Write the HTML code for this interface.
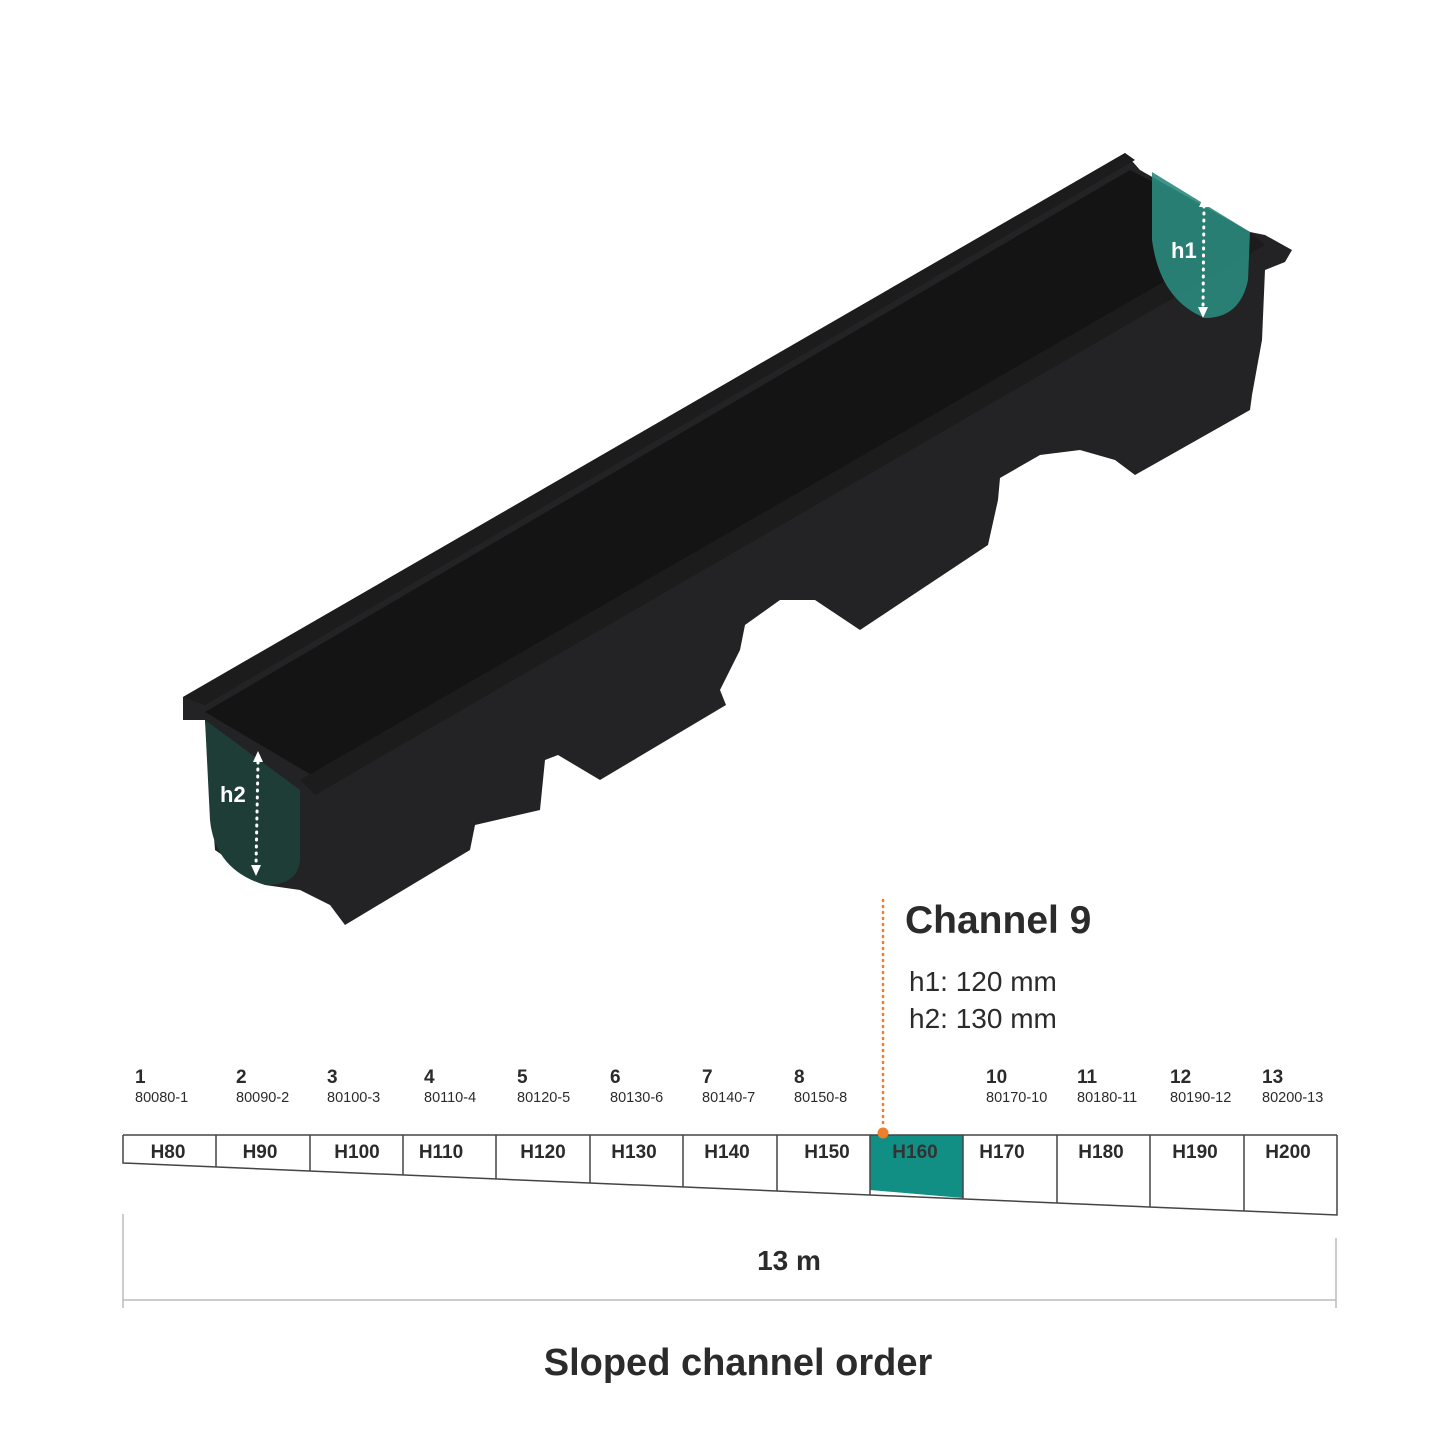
<!DOCTYPE html>
<html><head><meta charset="utf-8"><style>
html,body{margin:0;padding:0;background:#fff}
svg{display:block}
text{font-family:"Liberation Sans",sans-serif;fill:#2b2b2b}
</style></head><body>
<svg width="1445" height="1445" viewBox="0 0 1445 1445" xmlns="http://www.w3.org/2000/svg">
<polygon fill="#232325" points="183,697 1125,153 1140,170 1250,232 1265,235 1292,250 1285,262 1265,270 1262,340 1252,395 1250,410 1135,475 1115,460 1080,450 1040,455 1000,478 998,500 988,545 860,630 815,600 780,600 745,625 740,650 720,690 726,705 600,780 558,755 545,760 540,810 475,825 470,850 345,925 330,905 300,890 265,885 215,850 205,720 183,720"/>
<polygon fill="#141414" points="205,712 1130,170 1250,232 320,780"/>
<polygon fill="#1c1c1c" points="183,697 1125,153 1135,160 205,705"/>
<polygon fill="#1c1c1c" points="300,780 1250,232 1265,245 315,795"/>
<path d="M205,720 L300,790 L300,860 Q298,885 265,885 Q215,870 210,820 Z" fill="#1f3d37"/>
<path d="M1152,172 L1250,232 L1248,280 Q1240,318 1205,318 Q1160,300 1152,240 Z" fill="#2a8a7c" opacity="0.9"/>
<g stroke="#fff" stroke-width="3" stroke-dasharray="1 6" stroke-linecap="round">
<line x1="258" y1="762" x2="256" y2="866"/>
<line x1="1204" y1="206" x2="1203" y2="308"/>
</g>
<g fill="#fff">
<polygon points="258,751 253,762 263,762"/><polygon points="256,876 251,865 261,865"/>
<polygon points="1204,196 1199,207 1209,207"/><polygon points="1203,318 1198,307 1208,307"/>
</g>
<text x="220" y="802" font-size="22" font-weight="bold" style="fill:#fff">h2</text>
<text x="1171" y="258" font-size="22" font-weight="bold" style="fill:#fff">h1</text>

<line x1="883" y1="900" x2="883" y2="1128" stroke="#f07d2a" stroke-width="2.5" stroke-dasharray="1 5" stroke-linecap="round"/>
<text x="905" y="933" font-size="39" font-weight="bold">Channel 9</text>
<text x="909" y="991" font-size="28">h1: 120 mm</text>
<text x="909" y="1028" font-size="28">h2: 130 mm</text>

<polygon points="870,1135 963,1135 963,1198 870,1190" fill="#118f85"/>
<polyline points="123,1135 1337,1135" fill="none" stroke="#444" stroke-width="1.5"/>
<polyline points="123,1135 123,1163 1337,1215 1337,1135" fill="none" stroke="#444" stroke-width="1.5"/>
<g stroke="#444" stroke-width="1.5">
<line x1="216" y1="1135" x2="216" y2="1167"/>
<line x1="310" y1="1135" x2="310" y2="1171"/>
<line x1="403" y1="1135" x2="403" y2="1175"/>
<line x1="496" y1="1135" x2="496" y2="1179"/>
<line x1="590" y1="1135" x2="590" y2="1183"/>
<line x1="683" y1="1135" x2="683" y2="1187"/>
<line x1="777" y1="1135" x2="777" y2="1191"/>
<line x1="870" y1="1135" x2="870" y2="1195"/>
<line x1="963" y1="1135" x2="963" y2="1199"/>
<line x1="1057" y1="1135" x2="1057" y2="1203"/>
<line x1="1150" y1="1135" x2="1150" y2="1207"/>
<line x1="1244" y1="1135" x2="1244" y2="1211"/>
</g>
<circle cx="883" cy="1133" r="5.5" fill="#f07d2a"/>
<g font-size="19" font-weight="bold" text-anchor="middle">
<text x="168" y="1158">H80</text><text x="260" y="1158">H90</text><text x="357" y="1158">H100</text>
<text x="441" y="1158">H110</text><text x="543" y="1158">H120</text><text x="634" y="1158">H130</text>
<text x="727" y="1158">H140</text><text x="827" y="1158">H150</text><text x="915" y="1158" style="fill:#333">H160</text>
<text x="1002" y="1158">H170</text><text x="1101" y="1158">H180</text><text x="1195" y="1158">H190</text>
<text x="1288" y="1158">H200</text>
</g>
<g font-size="19" font-weight="bold">
<text x="135" y="1083">1</text><text x="236" y="1083">2</text><text x="327" y="1083">3</text>
<text x="424" y="1083">4</text><text x="517" y="1083">5</text><text x="610" y="1083">6</text>
<text x="702" y="1083">7</text><text x="794" y="1083">8</text><text x="986" y="1083">10</text>
<text x="1077" y="1083">11</text><text x="1170" y="1083">12</text><text x="1262" y="1083">13</text>
</g>
<g font-size="14.5" style="fill:#3a3a3a">
<text x="135" y="1102">80080-1</text><text x="236" y="1102">80090-2</text><text x="327" y="1102">80100-3</text>
<text x="424" y="1102">80110-4</text><text x="517" y="1102">80120-5</text><text x="610" y="1102">80130-6</text>
<text x="702" y="1102">80140-7</text><text x="794" y="1102">80150-8</text><text x="986" y="1102">80170-10</text>
<text x="1077" y="1102">80180-11</text><text x="1170" y="1102">80190-12</text><text x="1262" y="1102">80200-13</text>
</g>

<g stroke="#bbb" stroke-width="1.5">
<line x1="123" y1="1214" x2="123" y2="1308"/>
<line x1="1336" y1="1238" x2="1336" y2="1308"/>
<line x1="123" y1="1300" x2="1336" y2="1300"/>
</g>
<text x="789" y="1270" font-size="28" font-weight="bold" text-anchor="middle">13 m</text>
<text x="738" y="1375" font-size="38" font-weight="bold" text-anchor="middle">Sloped channel order</text>
</svg>
</body></html>
